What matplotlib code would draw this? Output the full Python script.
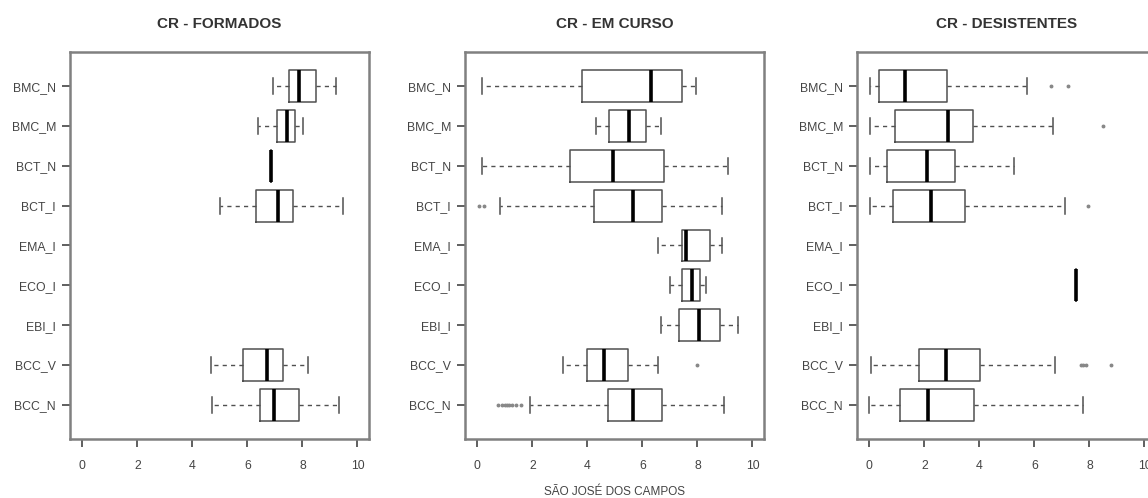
import numpy as np
import matplotlib
matplotlib.use("Agg")
import matplotlib.pyplot as plt

plt.rcParams['font.family'] = ['Liberation Sans', 'DejaVu Sans']

# course codes, bottom to top
courses = ['BCC_N', 'BCC_V', 'EBI_I', 'ECO_I', 'EMA_I', 'BCT_I', 'BCT_N', 'BMC_M', 'BMC_N']
titles = ['CR - FORMADOS', 'CR - EM CURSO', 'CR - DESISTENTES']

# five-number summaries per course (None = no data), order as in courses
# each entry: (whisker low, q1, median, q3, whisker high)
formados = [
    (4.70, 6.44, 6.96, 7.89, 9.33),
    (4.66, 5.85, 6.73, 7.30, 8.21),
    None,
    None,
    None,
    (5.02, 6.33, 7.10, 7.67, 9.49),
    (6.84, 6.84, 6.84, 6.84, 6.84),
    (6.39, 7.08, 7.45, 7.74, 8.01),
    (6.94, 7.51, 7.86, 8.48, 9.21),
]
formados_out = [[], [], [], [], [], [], [], [], []]

em_curso = [
    (1.93, 4.74, 5.66, 6.70, 8.97),
    (3.13, 4.00, 4.59, 5.47, 6.56),
    (6.67, 7.34, 8.06, 8.83, 9.46),
    (6.99, 7.44, 7.82, 8.10, 8.32),
    (6.55, 7.44, 7.59, 8.45, 8.89),
    (0.81, 4.24, 5.66, 6.72, 8.89),
    (0.17, 3.37, 4.93, 6.78, 9.10),
    (4.32, 4.80, 5.50, 6.13, 6.69),
    (0.15, 3.81, 6.31, 7.45, 7.95),
]
em_curso_out = [
    [0.75, 0.90, 1.00, 1.08, 1.15, 1.25, 1.40, 1.60],
    [7.98],
    [], [], [],
    [0.05, 0.25],
    [], [], [],
]

desistentes = [
    (0.00, 1.10, 2.14, 3.79, 7.77),
    (0.06, 1.79, 2.77, 4.01, 6.76),
    None,
    (7.51, 7.51, 7.51, 7.51, 7.51),
    None,
    (0.02, 0.87, 2.24, 3.47, 7.12),
    (0.02, 0.65, 2.08, 3.12, 5.27),
    (0.01, 0.94, 2.85, 3.77, 6.68),
    (0.01, 0.34, 1.30, 2.83, 5.74),
]
desistentes_out = [
    [],
    [7.68, 7.78, 7.88, 8.78],
    [], [], [],
    [7.95],
    [],
    [8.48],
    [6.62, 7.22],
]

panels = [(formados, formados_out), (em_curso, em_curso_out), (desistentes, desistentes_out)]
x_ticks = [0, 2, 4, 6, 8, 10]

fig = plt.figure(figsize=(11.48, 4.98), dpi=100)
lefts = [70, 465, 857]
frame_col = '#808080'
text_col = '#444444'

for i, (summ, outl) in enumerate(panels):
    ax = fig.add_axes([lefts[i] / 1148, 59 / 498, 299 / 1148, 387 / 498])
    stats = []
    pos = []
    for k, s in enumerate(summ):
        if s is None:
            continue
        stats.append(dict(whislo=s[0], q1=s[1], med=s[2], q3=s[3], whishi=s[4],
                          fliers=outl[k], label=courses[k]))
        pos.append(k + 1)
    ax.bxp(stats, positions=pos, widths=0.8, capwidths=0.4,
           orientation='horizontal', showfliers=True,
           boxprops=dict(color='#505050', linewidth=1.1),
           medianprops=dict(color='black', linewidth=2.6, solid_capstyle='butt'),
           whiskerprops=dict(color='#505050', linewidth=1.0, linestyle=(0, (3, 3))),
           capprops=dict(color='#505050', linewidth=1.1),
           flierprops=dict(marker='o', markersize=1.8, markerfacecolor='#888888',
                           markeredgecolor='#888888', linestyle='none'))
    ax.set_xlim(-0.45, 10.42)
    ax.set_ylim(0.14, 9.86)
    ax.set_yticks(range(1, len(courses) + 1))
    ax.set_yticklabels(courses)
    ax.set_xticks(x_ticks)
    ax.set_xticklabels([str(t) for t in x_ticks])
    for sp in ax.spines.values():
        sp.set_color(frame_col)
        sp.set_linewidth(1.8)
    ax.tick_params(axis='both', colors=text_col, labelsize=8.8, length=6, width=1.2,
                   direction='out')
    ax.tick_params(axis='y', pad=4)
    ax.tick_params(axis='x', pad=9)
    ax.set_title(titles[i], fontsize=11, fontweight='bold', color='#333333', pad=17)
    if i == 1:
        ax.set_xlabel('SÃO JOSÉ DOS CAMPOS', fontsize=8.5, color=text_col, labelpad=10)

fig.savefig('out.png', dpi=100)
